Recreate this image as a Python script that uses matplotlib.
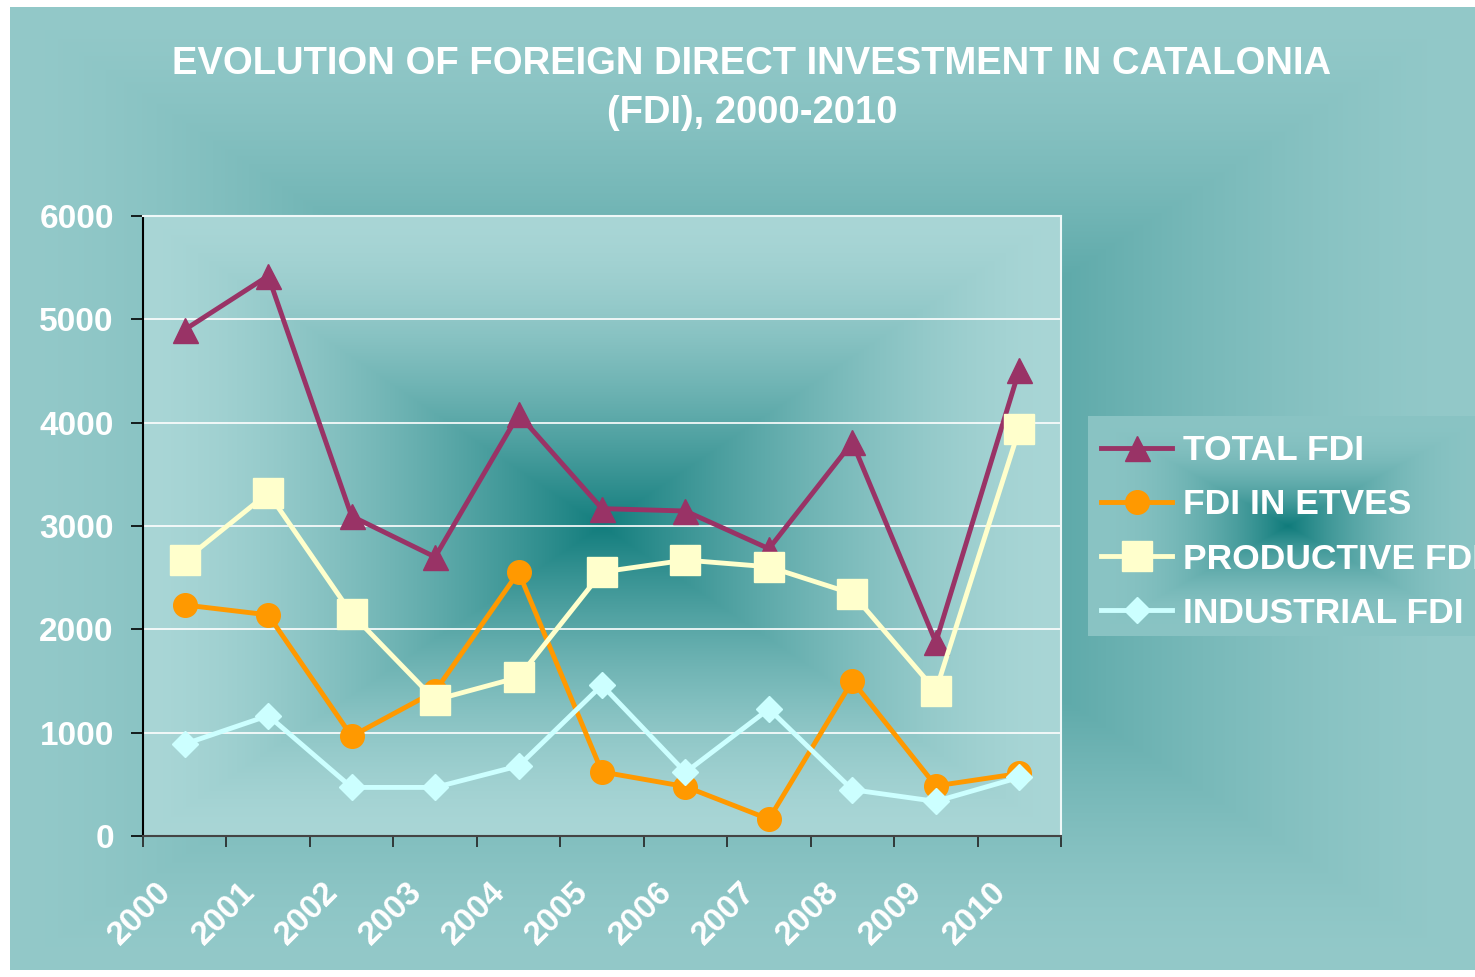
import numpy as np
import matplotlib.pyplot as plt
from matplotlib.transforms import ScaledTranslation

plt.rcParams['font.family'] = ['Liberation Sans', 'DejaVu Sans']

# data
years = [str(y) for y in range(2000, 2011)]
total_fdi = [4900, 5420, 3095, 2700, 4080, 3168, 3145, 2780, 3810, 1875, 4510]
fdi_etves = [2236, 2140, 965, 1400, 2555, 620, 478, 163, 1500, 485, 605]
productive_fdi = [2670, 3320, 2150, 1316, 1535, 2555, 2670, 2605, 2345, 1405, 3940]
industrial_fdi = [890, 1165, 470, 470, 678, 1460, 615, 1230, 448, 335, 567]

W, H = 1475, 977
EDGE = np.array([147, 201, 201]) / 255
CENTRE = np.array([15, 123, 123]) / 255


def rect_gradient(xx, yy, x0, x1, y0, y1, edge, centre, power):
    # "from centre" path gradient with rectangular contours
    cx, cy = (x0 + x1) / 2, (y0 + y1) / 2
    t = np.maximum(np.abs(xx - cx) / ((x1 - x0) / 2), np.abs(yy - cy) / ((y1 - y0) / 2))
    f = np.clip(1 - t, 0, 1) ** power
    return edge + (centre - edge) * f[..., None]


# figure background: white frame, teal chart area, legend box
yy, xx = np.mgrid[0:H, 0:W] + 0.5
bg = np.ones((H, W, 3))
chart = rect_gradient(xx, yy, 10, 1475, 7, 970, EDGE, CENTRE, 1.6)
inside = (xx >= 10) & (yy >= 7) & (yy <= 970)
bg[inside] = chart[inside]
leg_bg = rect_gradient(xx, yy, 1088, 1488, 416, 636, np.array([138, 196, 196]) / 255, CENTRE, 2.2)
in_leg = (xx >= 1088) & (yy >= 416) & (yy <= 636)
bg[in_leg] = leg_bg[in_leg]

fig = plt.figure(figsize=(W / 100, H / 100), dpi=100)
fig.figimage(bg, 0, 0, origin='upper', zorder=-5)

ax = fig.add_axes([143 / W, 1 - 836 / H, (1061 - 143) / W, (836 - 216) / H])
ax.patch.set_visible(False)

# plot area gradient
py, px = np.mgrid[0:620, 0:918] + 0.5
plot_bg = rect_gradient(px, py, 0, 918, 0, 620, np.array([169, 214, 214]) / 255,
                        np.array([18, 125, 125]) / 255, 1.6)
ax.imshow(plot_bg, extent=(-0.5, 10.5, 0, 6000), aspect='auto', zorder=-2,
          interpolation='bilinear')

x = np.arange(len(years))
ax.plot(x, total_fdi, color='#993366', lw=3.5, marker='^', ms=18, mec='#993366',
        label='TOTAL FDI', zorder=3)
ax.plot(x, fdi_etves, color='#FF9900', lw=3.5, marker='o', ms=17, mec='#FF9900',
        label='FDI IN ETVES', zorder=3)
ax.plot(x, productive_fdi, color='#FFFFCC', lw=3.5, marker='s', ms=22, mec='#FFFFCC',
        label='PRODUCTIVE FDI', zorder=3)
ax.plot(x, industrial_fdi, color='#CCFFFF', lw=3.5, marker='D', ms=13, mec='#CCFFFF',
        label='INDUSTRIAL FDI', zorder=3)

ax.set_xlim(-0.5, 10.5)
ax.set_ylim(0, 6000)

ax.set_axisbelow(True)
ax.yaxis.grid(True, color='white', lw=1.2)

ax.set_yticks(range(0, 7000, 1000))
ax.set_yticklabels([str(v) for v in range(0, 7000, 1000)], fontsize=24,
                   fontweight='bold', color='white')
ax.tick_params(axis='y', direction='out', length=9, width=1.2, color='black', pad=12)

ax.set_xticks(np.arange(-0.5, 11, 1))
ax.set_xticklabels([])
ax.set_xticks(x, minor=True)
ax.set_xticklabels(years, minor=True, fontsize=24, fontweight='bold', color='white',
                   rotation=45, ha='right', va='top', rotation_mode='anchor')
ax.tick_params(axis='x', which='major', direction='out', length=8, width=1.2, color='#222222')
ax.tick_params(axis='x', which='minor', length=0, pad=29)
shift = ScaledTranslation(-0.29, 0, fig.dpi_scale_trans)
for lab in ax.get_xticklabels(minor=True):
    lab.set_transform(lab.get_transform() + shift)

ax.spines['left'].set_color('black')
ax.spines['left'].set_linewidth(1.5)
ax.spines['bottom'].set_color('#444444')
ax.spines['bottom'].set_linewidth(1.5)
for s in ['top', 'right']:
    ax.spines[s].set_color('#eef8f8')
    ax.spines[s].set_linewidth(1.5)

ax.legend(loc='upper left', bbox_to_anchor=(1088 / W, 1 - 421 / H),
          bbox_transform=fig.transFigure, frameon=False,
          prop={'weight': 'bold', 'size': 25.5}, labelcolor='white',
          handlelength=2.0, handletextpad=0.3, labelspacing=0.6,
          borderpad=0.37, borderaxespad=0)

fig.text(752 / W, 1 - 73.5 / H, 'EVOLUTION OF FOREIGN DIRECT INVESTMENT IN CATALONIA',
         ha='center', va='baseline', fontsize=27.5, fontweight='bold', color='white')
fig.text(752 / W, 1 - 123 / H, '(FDI), 2000-2010',
         ha='center', va='baseline', fontsize=27.5, fontweight='bold', color='white')

fig.savefig('out.png', dpi=100)
